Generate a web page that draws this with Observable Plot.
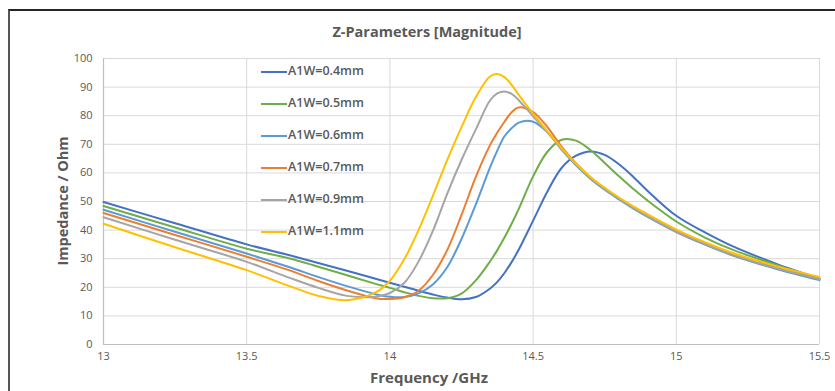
<!DOCTYPE html>
<html>
<head>
<meta charset="utf-8">
<script src="https://cdn.jsdelivr.net/npm/d3@7"></script>
<script src="https://cdn.jsdelivr.net/npm/@observablehq/plot@0.6"></script>
<style>
  body { margin: 0; background: #fff; }
  #wrap { position: relative; width: 835px; height: 391px; overflow: hidden; font-family: "Open Sans", sans-serif; color: #595959; }
  #frame { position: absolute; left: 8px; top: 9px; width: 900px; height: 500px; border-top: 2px solid #262626; border-left: 2px solid #555; pointer-events: none; }
  #chart { position: absolute; left: 0; top: 0; }
  .title { position: absolute; left: 0; width: 854px; top: 22px; line-height: 20px; text-align: center; font-weight: 700; font-size: 14.5px; }
  .xlabel { position: absolute; left: 0; width: 858px; top: 367px; line-height: 20px; text-align: center; font-weight: 700; font-size: 15px; }
  .ylabel { position: absolute; left: 63px; top: 201px; transform: translate(-50%, -50%) rotate(-90deg); white-space: nowrap; font-weight: 700; font-size: 14.5px; line-height: 20px; }
  .leg { position: absolute; left: 261px; height: 20px; line-height: 20px; white-space: nowrap; font-weight: 600; font-size: 12.5px; }
  .leg .sw { display: inline-block; width: 26px; height: 2px; vertical-align: middle; margin-right: 1px; }
</style>
</head>
<body>
<div id="wrap">
  <div id="chart"></div>
  <div id="frame"></div>
  <div class="title">Z-Parameters [Magnitude]</div>
  <div class="xlabel">Frequency /GHz</div>
  <div class="ylabel">Impedance / Ohm</div>
</div>
<script>
// Frequency grid (GHz)
const freq = [13.0, 13.25, 13.5, 13.65, 13.75, 13.85, 13.95, 14.0, 14.05, 14.1, 14.15, 14.2, 14.25, 14.3, 14.35, 14.375, 14.4, 14.425, 14.45, 14.5, 14.55, 14.6, 14.65, 14.7, 14.75, 14.8, 14.85, 14.9, 15.0, 15.1, 15.2, 15.35, 15.5];

// Impedance magnitude (Ohm) per series
const z04 = [49.8, 42.4, 35.0, 31.2, 28.5, 25.8, 23.0, 21.6, 20.2, 18.8, 17.5, 16.4, 15.8, 16.6, 19.6, 21.9, 25.0, 28.8, 33.2, 43.3, 53.5, 61.8, 66.0, 67.5, 66.3, 63.0, 58.6, 53.7, 45.0, 39.2, 34.2, 28.2, 23.0];
const z05 = [48.4, 40.9, 33.5, 30.1, 27.2, 24.2, 21.2, 19.8, 18.3, 17.0, 16.2, 16.2, 17.8, 22.4, 29.1, 33.0, 37.4, 42.2, 47.4, 58.8, 67.4, 71.6, 71.3, 68.0, 63.5, 58.8, 54.4, 50.3, 43.0, 37.4, 33.0, 27.8, 23.0];
const z06 = [47.1, 39.4, 31.8, 27.0, 23.6, 20.4, 17.6, 16.7, 16.6, 17.9, 21.0, 27.0, 36.9, 49.0, 62.0, 67.8, 72.8, 75.6, 77.6, 77.9, 74.2, 68.1, 62.7, 58.0, 54.1, 50.7, 47.5, 44.6, 39.3, 34.9, 31.0, 26.4, 22.5];
const z07 = [46.0, 38.3, 30.7, 25.9, 22.2, 18.9, 16.2, 15.9, 16.5, 18.8, 24.3, 33.0, 45.3, 58.6, 69.8, 74.1, 77.9, 81.2, 82.9, 81.3, 76.0, 69.1, 63.3, 58.5, 54.6, 51.1, 47.9, 45.0, 39.6, 35.2, 31.3, 26.8, 22.9];
const z09 = [44.5, 36.6, 28.9, 23.3, 19.8, 17.0, 16.7, 18.0, 21.5, 29.0, 39.7, 52.7, 64.5, 75.2, 85.4, 87.8, 88.5, 87.6, 85.4, 79.8, 74.2, 68.4, 63.0, 58.3, 54.4, 51.0, 47.8, 44.9, 39.6, 35.2, 31.3, 26.7, 22.9];
const z11 = [42.2, 34.0, 26.0, 20.4, 17.0, 15.5, 18.2, 22.3, 29.8, 40.0, 52.0, 64.5, 76.0, 86.5, 93.8, 94.6, 93.5, 90.8, 87.3, 80.7, 74.5, 68.6, 63.2, 58.6, 54.8, 51.4, 48.3, 45.5, 40.2, 35.8, 31.9, 27.4, 23.6];

const seriesNames = ["A1W=0.4mm", "A1W=0.5mm", "A1W=0.6mm", "A1W=0.7mm", "A1W=0.9mm", "A1W=1.1mm"];
const seriesColors = ["#4472C4", "#70AD47", "#5B9BD5", "#ED7D31", "#A5A5A5", "#FFC000"];
const seriesValues = [z04, z05, z06, z07, z09, z11];

const xTicks = [13, 13.5, 14, 14.5, 15, 15.5];
const yTicks = [0, 10, 20, 30, 40, 50, 60, 70, 80, 90, 100];

const rows = seriesNames.flatMap((name, i) => freq.map((f, j) => ({ series: name, f, z: seriesValues[i][j] })));

const chart = Plot.plot({
  width: 835,
  height: 391,
  marginLeft: 103,
  marginRight: 16,
  marginTop: 58,
  marginBottom: 47,
  style: { fontFamily: "Open Sans, sans-serif", fontSize: "11px", color: "#595959", background: "transparent" },
  x: { domain: [13, 15.5] },
  y: { domain: [0, 100] },
  color: { domain: seriesNames, range: seriesColors },
  marks: [
    Plot.gridX(xTicks, { stroke: "#d9d9d9", strokeOpacity: 1, strokeWidth: 1 }),
    Plot.gridY(yTicks, { stroke: "#d9d9d9", strokeOpacity: 1, strokeWidth: 1 }),
    Plot.ruleY([0], { stroke: "#bfbfbf", strokeWidth: 1.2 }),
    Plot.ruleX([13], { stroke: "#bfbfbf", strokeWidth: 1.2 }),
    Plot.axisX(xTicks, { tickSize: 0, tickPadding: 8, label: null, tickFormat: (d) => String(d) }),
    Plot.axisY(yTicks, { tickSize: 0, tickPadding: 11, label: null, tickFormat: (d) => String(d) }),
    Plot.line(rows, { x: "f", y: "z", z: "series", stroke: "series", strokeWidth: 2, curve: "catmull-rom" })
  ]
});
document.getElementById("chart").appendChild(chart);

// Legend (HTML, built from the series arrays)
const wrap = document.getElementById("wrap");
seriesNames.forEach((name, i) => {
  const d = document.createElement("div");
  d.className = "leg";
  d.style.top = (61 + i * 32) + "px";
  const sw = document.createElement("span");
  sw.className = "sw";
  sw.style.background = seriesColors[i];
  d.appendChild(sw);
  d.appendChild(document.createTextNode(name));
  wrap.appendChild(d);
});
</script>
</body>
</html>
